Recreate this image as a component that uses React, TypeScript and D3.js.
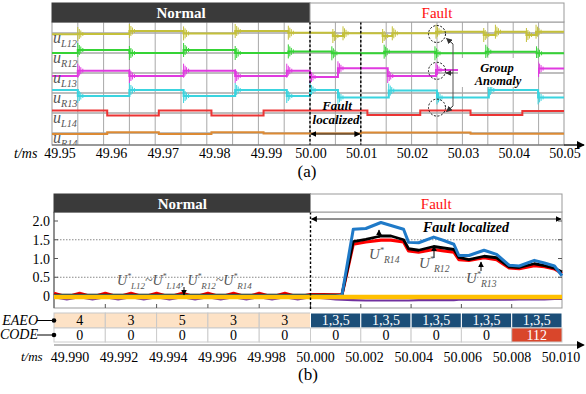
import React from 'react';
import * as d3 from 'd3';

// ---------------- (a) data ----------------
const topTicks = [49.95, 49.96, 49.97, 49.98, 49.99, 50.0, 50.01, 50.02, 50.03, 50.04, 50.05];
const topTickLabels = ['49.95', '49.96', '49.97', '49.98', '49.99', '50.00', '50.01', '50.02', '50.03', '50.04', '50.05'];
const topGridTimes = [49.955, 49.96, 49.965, 49.97, 49.975, 49.98, 49.985, 49.99, 49.995, 50.0, 50.005, 50.01, 50.015, 50.02, 50.025, 50.03, 50.035, 50.04, 50.045];
const channelSubs = ['L12', 'R12', 'L13', 'R13', 'L14', 'R14'];
const channelColors = ['#c4c03a', '#35d335', '#e03ae0', '#3ad4df', '#ec3434', '#dc8a34'];
const spikeChannels = [true, true, true, true, false, false];

// step signals: [time (ms), level (divisions relative to channel baseline)]
const uL12: [number, number][] = [
  [49.95, -0.06], [49.955, -0.05], [49.965, 0.1], [49.9755, -0.02], [49.9855, 0.1], [49.9958, 0.015],
  [50.0045, -0.15], [50.0065, -0.015], [50.0143, -0.15], [50.0162, -0.015], [50.0248, 0.065],
  [50.0342, -0.1], [50.0365, 0.065], [50.0426, -0.1], [50.0445, 0.065],
];
const uR12: [number, number][] = [
  [49.95, 0], [49.955, 0.15], [49.965, 0], [49.9755, 0.15], [49.9855, 0], [49.9958, 0.08],
  [50.0043, -0.015], [50.0146, 0.065], [50.0246, -0.015], [50.0346, 0.065], [50.0446, -0.015],
];
const uL13: [number, number][] = [
  [49.95, -0.15], [49.955, 0.115], [49.965, -0.15], [49.9755, 0.115], [49.9855, -0.15], [49.9955, 0.115],
  [50.0, -0.2], [50.0055, 0.235], [50.0153, -0.15], [50.0248, 0.15], [50.0348, -0.15], [50.0449, 0.22],
];
const uR13: [number, number][] = [
  [49.95, 0.15], [49.955, -0.15], [49.965, 0.15], [49.9755, -0.15], [49.9855, 0.15], [49.9955, -0.15],
  [50.0, 0.15], [50.0055, -0.22], [50.0155, 0.12], [50.025, -0.22], [50.0352, 0.15], [50.0449, -0.22],
];
const uL14: [number, number][] = [
  [49.95, 0.125], [49.9607, -0.125], [49.9707, 0.125], [49.9809, -0.125], [49.991, 0.125],
  [50.0113, -0.1], [50.0217, 0.125], [50.0316, -0.1], [50.0418, 0.1],
];
const uR14: [number, number][] = [
  [49.95, -0.05], [49.9607, 0.035], [49.9707, -0.05], [49.9809, 0.035], [49.991, -0.03],
  [50.01, 0.02], [50.0316, -0.04],
];
const channels = [uL12, uR12, uL13, uR13, uL14, uR14];
const anomalyTime = 50.025;
const anomalyChannels = [0, 2, 4];

// ---------------- (b) data ----------------
const bTicks = [49.99, 49.992, 49.994, 49.996, 49.998, 50.0, 50.002, 50.004, 50.006, 50.008, 50.01];
const bTickLabels = ['49.990', '49.992', '49.994', '49.996', '49.998', '50.000', '50.002', '50.004', '50.006', '50.008', '50.010'];
const yTicks = [0, 0.5, 1.0, 1.5, 2.0];
const yTickLabels = ['0', '0.5', '1.0', '1.5', '2.0'];
const yDotted = [0.5, 1.5];

const tNormal = [49.99, 49.9905, 49.991, 49.9915, 49.992, 49.9925, 49.993, 49.9935, 49.994, 49.9945,
  49.995, 49.9955, 49.996, 49.9965, 49.997, 49.9975, 49.998, 49.9985, 49.999, 49.9995];
const tFault = [50.0, 50.0005, 50.001, 50.00125, 50.0017, 50.0022, 50.0028, 50.0032, 50.0037, 50.0039,
  50.0043, 50.0049, 50.0053, 50.0057, 50.0059, 50.0063, 50.0069, 50.0074, 50.0079, 50.0083,
  50.0089, 50.0093, 50.0097, 50.01];

const uR14Normal = [0, 0, 0, 0, 0, 0, 0, 0, 0, 0, 0, 0, 0, 0, 0, 0, 0, 0, 0, 0];
const uR14Fault = [0, 0, 0, 0.02, 1.78, 1.8, 1.96, 1.88, 1.78, 1.43, 1.42, 1.57, 1.48, 1.38, 1.08, 1.08, 1.22, 1.11, 0.82, 0.8, 0.95, 0.88, 0.8, 0.54];
const uR12Normal = [0.02, 0.02, 0.02, 0.02, 0.02, 0.02, 0.02, 0.02, 0.02, 0.02, 0.02, 0.02, 0.02, 0.02, 0.02, 0.02, 0.02, 0.02, 0.02, 0.02];
const uR12Fault = [0.02, 0.02, 0.02, 0.02, 1.45, 1.51, 1.6, 1.6, 1.5, 1.26, 1.22, 1.32, 1.28, 1.24, 1.03, 0.97, 1.06, 1.02, 0.78, 0.76, 0.86, 0.81, 0.74, 0.64];
const uR13Normal = [0.07, -0.03, 0.07, -0.03, 0.07, -0.03, 0.07, -0.03, 0.07, -0.03, 0.07, -0.03, 0.07, -0.03, 0.07, -0.03, 0.07, -0.03, 0.07, -0.03];
const uR13Fault = [0.04, 0.04, 0.03, 0.03, 1.38, 1.44, 1.49, 1.49, 1.44, 1.2, 1.17, 1.24, 1.2, 1.17, 0.97, 0.95, 1.02, 0.97, 0.75, 0.73, 0.81, 0.78, 0.72, 0.6];
const uL13Normal = [-0.03, -0.09, -0.03, -0.09, -0.03, -0.09, -0.03, -0.09, -0.03, -0.09, -0.03, -0.09, -0.03, -0.09, -0.03, -0.09, -0.03, -0.09, -0.03, -0.09];
const uL13Fault = [-0.03, -0.06, -0.09, -0.1, -0.11, -0.12, -0.12, -0.12, -0.12, -0.12, -0.11, -0.11, -0.11, -0.11, -0.1, -0.1, -0.1, -0.1, -0.1, -0.09, -0.09, -0.09, -0.08, -0.08];
const uL12Normal = [-0.025, -0.025, -0.025, -0.025, -0.025, -0.025, -0.025, -0.025, -0.025, -0.025, -0.025, -0.025, -0.025, -0.025, -0.025, -0.025, -0.025, -0.025, -0.025, -0.025];
const uL12Fault = [-0.025, -0.025, -0.025, -0.025, -0.025, -0.025, -0.025, -0.025, -0.025, -0.025, -0.025, -0.025, -0.025, -0.025, -0.025, -0.025, -0.025, -0.025, -0.025, -0.025, -0.025, -0.025, -0.025, -0.025];

const cellStarts = [49.99, 49.992, 49.994, 49.996, 49.998, 50.0, 50.002, 50.004, 50.006, 50.008];
const eaeo = ['4', '3', '5', '3', '3', '1,3,5', '1,3,5', '1,3,5', '1,3,5', '1,3,5'];
const code = ['0', '0', '0', '0', '0', '0', '0', '0', '0', '112'];

const serif = "'Liberation Serif', 'Times New Roman', serif";

type Part = { t: string; k?: 'sup' | 'sub' };

function RichText({ x, y, parts, size, fill, anchor }: { x: number; y: number; parts: Part[]; size: number; fill: string; anchor?: string }) {
  let cur = 0;
  const spans = parts.map((p, i) => {
    const target = p.k === 'sup' ? -size * 0.42 : p.k === 'sub' ? size * 0.28 : 0;
    const dy = target - cur;
    cur = target;
    const fs = p.k === 'sup' ? size * 0.55 : p.k === 'sub' ? size * 0.64 : size;
    return <tspan key={i} dy={dy} fontSize={fs}>{p.t}</tspan>;
  });
  return (
    <text x={x} y={y} style={{ fontFamily: serif }} fontStyle="italic" fill={fill} fontSize={size} textAnchor={anchor || 'start'}>
      {spans}
    </text>
  );
}

export default function App() {
  // (a) scales
  const xT = d3.scaleLinear().domain([49.95, 50.0, 50.05]).range([52, 310, 564]);
  const yT = d3.scaleLinear().domain([0, 5]).range([33, 133]);
  const topL = 52, topR = 564, topTop = 22, topBot = 145;

  // (b) scales
  const xB = d3.scaleLinear().domain([49.99, 50.0, 50.01]).range([54, 310.5, 562]);
  const yB = d3.scaleLinear().domain([0, 2]).range([296, 221]);
  const xBL = d3.scaleLinear().domain([49.99, 50.01]).range([70, 561]);
  const bL = 54, bR = 562, bTop = 212, bBot = 308;
  const rowE0 = 313, rowE1 = 328, rowC1 = 342;

  const stepLine = d3.line<[number, number]>().x(d => d[0]).y(d => d[1]).curve(d3.curveStepAfter);
  const lin = d3.line<[number, number]>().x(d => xB(d[0])).y(d => yB(d[1]));

  const series = (n: number[], f: number[]) => {
    const ts = tNormal.concat(tFault);
    const vs = n.concat(f);
    return ts.map((t, i) => [t, vs[i]] as [number, number]);
  };

  const topSignals = channels.map((steps, i) => {
    const pts: [number, number][] = steps.map(([t, v]) => [xT(t), yT(i - v)]);
    pts.push([xT(50.05), yT(i - steps[steps.length - 1][1])]);
    let spikes = '';
    if (spikeChannels[i]) {
      steps.slice(1).forEach(([t, v]) => {
        const x = xT(t), y = yT(i - v);
        spikes += `M${x},${y - 7}L${x},${y + 7}M${x + 1.5},${y - 5}L${x + 1.5},${y + 5}M${x + 3},${y - 3.5}L${x + 3},${y + 3.5}M${x + 5},${y - 2}L${x + 5},${y + 2}`;
      });
    }
    return { d: stepLine(pts) || '', spikes };
  });

  return (
    <svg width={586} height={394} style={{ position: 'absolute', left: 0, top: 0, background: '#fff', fontFamily: serif }}>
      <defs>
        <clipPath id="topClip">
          <rect x={topL} y={topTop} width={topR - topL} height={topBot - topTop} />
        </clipPath>
        <marker id="ahB" viewBox="0 0 10 10" refX="9" refY="5" markerWidth="8" markerHeight="8" markerUnits="userSpaceOnUse" orient="auto-start-reverse">
          <path d="M0,0 L10,5 L0,10 z" fill="#000" />
        </marker>
        <marker id="ahS" viewBox="0 0 10 10" refX="9" refY="5" markerWidth="6" markerHeight="6" markerUnits="userSpaceOnUse" orient="auto-start-reverse">
          <path d="M0,0 L10,5 L0,10 z" fill="#000" />
        </marker>
        <marker id="ahG" viewBox="0 0 10 10" refX="9" refY="5" markerWidth="6" markerHeight="6" markerUnits="userSpaceOnUse" orient="auto-start-reverse">
          <path d="M0,0 L10,5 L0,10 z" fill="#333" />
        </marker>
      </defs>

      {/* ================= (a) ================= */}
      <rect x={topL} y={topTop} width={topR - topL} height={topBot - topTop} fill="#fff" stroke="#999" />
      {topGridTimes.map((t, i) => (
        <line key={i} x1={xT(t)} x2={xT(t)} y1={topTop} y2={topBot} stroke="#a8a8a8" strokeWidth={1} />
      ))}
      {channels.map((_, i) => (
        <line key={i} x1={topL} x2={topR} y1={yT(i)} y2={yT(i)} stroke="#a8a8a8" strokeWidth={1.5} />
      ))}
      {topSignals.map((s, i) => (
        <g key={i}>
          <path d={s.d} fill="none" stroke={channelColors[i]} strokeWidth={2} />
          {s.spikes && <path d={s.spikes} fill="none" stroke={channelColors[i]} strokeWidth={1} />}
        </g>
      ))}
      <g clipPath="url(#topClip)">
        {channelSubs.map((s, i) => (
          <RichText key={i} x={53} y={yT(i) + 10} parts={[{ t: 'u' }, { t: s, k: 'sub' }]} size={16} fill="#555" />
        ))}
      </g>

      {/* fault localized (a) */}
      <line x1={xT(50.0)} x2={xT(50.0)} y1={topTop} y2={topBot} stroke="#000" strokeWidth={1.4} strokeDasharray="2.5,2" />
      <line x1={xT(50.01)} x2={xT(50.01)} y1={topTop} y2={topBot} stroke="#000" strokeWidth={1.4} strokeDasharray="2.5,2" />
      <line x1={xT(50.0) + 1} x2={xT(50.01) - 1} y1={134} y2={134} stroke="#222" strokeWidth={1.2} markerStart="url(#ahS)" markerEnd="url(#ahS)" />
      <text x={337} y={110} fontSize={13} fontWeight="bold" fontStyle="italic" textAnchor="middle">Fault</text>
      <text x={336} y={124} fontSize={13} fontWeight="bold" fontStyle="italic" textAnchor="middle">localized</text>

      {/* group anomaly */}
      {anomalyChannels.map((c) => (
        <circle key={c} cx={xT(anomalyTime)} cy={yT(c * 0.92 + 0.05)} r={8.5} fill="none" stroke="#111" strokeWidth={1} strokeDasharray="2,1.6" />
      ))}
      <path d="M453,44 L453,106" fill="none" stroke="#555" strokeWidth={1} />
      <line x1={453} y1={44} x2={446.5} y2={38.5} stroke="#333" strokeWidth={1} markerEnd="url(#ahG)" />
      <line x1={453} y1={106} x2={446.5} y2={111.5} stroke="#333" strokeWidth={1} markerEnd="url(#ahG)" />
      <line x1={453} y1={73} x2={446} y2={73} stroke="#333" strokeWidth={1} markerEnd="url(#ahG)" />
      <rect x={458} y={58} width={80} height={29} fill="#fff" />
      <text x={497} y={71.5} fontSize={12.5} fontWeight="bold" fontStyle="italic" textAnchor="middle">Group</text>
      <text x={498} y={85} fontSize={12.5} fontWeight="bold" fontStyle="italic" textAnchor="middle">Anomaly</text>

      {/* headers (a) */}
      <rect x={topL} y={3} width={xT(50.0) - topL} height={19} fill="#3a3a3a" stroke="#3a3a3a" />
      <rect x={xT(50.0)} y={3} width={topR - xT(50.0)} height={19} fill="#fff" stroke="#999" />
      <text x={(topL + xT(50.0)) / 2} y={18} fontSize={15} fontWeight="bold" fill="#fff" textAnchor="middle">Normal</text>
      <text x={(xT(50.0) + topR) / 2} y={18} fontSize={15} fill="#ff1010" textAnchor="middle">Fault</text>

      {/* axis (a) */}
      <line x1={topL} x2={584} y1={topBot} y2={topBot} stroke="#666" strokeWidth={1} />
      <line x1={topR} x2={584} y1={topBot} y2={topBot} stroke="#000" strokeWidth={1} markerEnd="url(#ahB)" />
      {topTicks.map((t, i) => (
        <text key={i} x={xT(t) + (t < 50 ? 8 : 1)} y={158} fontSize={14} textAnchor="middle">{topTickLabels[i]}</text>
      ))}
      <text x={14} y={158} fontSize={14} fontStyle="italic">t/ms</text>
      <text x={307} y={177} fontSize={17} textAnchor="middle">(a)</text>

      {/* ================= (b) ================= */}
      <rect x={bL} y={bTop} width={bR - bL} height={bBot - bTop} fill="#fff" stroke="#999" />
      <line x1={bL} x2={bL} y1={bTop} y2={bBot} stroke="#555" />
      {yDotted.map((v, i) => (
        <line key={i} x1={bL} x2={bR} y1={yB(v)} y2={yB(v)} stroke="#888" strokeWidth={1} strokeDasharray="1.5,1.5" />
      ))}
      {yTicks.map((v, i) => (
        <g key={i}>
          <line x1={bL} x2={bL + 4} y1={yB(v)} y2={yB(v)} stroke="#555" />
          <line x1={bR - 4} x2={bR} y1={yB(v)} y2={yB(v)} stroke="#555" />
          <text x={50} y={yB(v) + 5} fontSize={14} textAnchor="end">{yTickLabels[i]}</text>
        </g>
      ))}
      {bTicks.slice(1, -1).map((t, i) => (
        <line key={i} x1={xB(t)} x2={xB(t)} y1={bBot} y2={bBot - 4} stroke="#555" />
      ))}

      {/* lines */}
      <path d={lin(series(uL13Normal, uL13Fault)) || ''} fill="none" stroke="#7030a0" strokeWidth={2.2} />
      <path d={lin(series(uR13Normal, uR13Fault)) || ''} fill="none" stroke="#ff0000" strokeWidth={3.2} strokeLinejoin="round" />
      <path d={lin(series(uR12Normal, uR12Fault)) || ''} fill="none" stroke="#000" strokeWidth={2.8} strokeLinejoin="round" />
      <path d={lin(series(uR14Normal, uR14Fault)) || ''} fill="none" stroke="#1f7ac8" strokeWidth={3} strokeLinejoin="round" />
      <path d={lin(series(uL12Normal, uL12Fault)) || ''} fill="none" stroke="#ffc000" strokeWidth={4.5} />

      {/* annotations (b) */}
      <line x1={xB(50.0)} x2={xB(50.0)} y1={bTop} y2={bBot + 3} stroke="#000" strokeWidth={1.4} strokeDasharray="2.5,2" />
      <line x1={xB(50.0) + 1} x2={bR - 1} y1={219} y2={219} stroke="#222" strokeWidth={1} markerStart="url(#ahS)" markerEnd="url(#ahS)" />
      <text x={466} y={232} fontSize={14} fontWeight="bold" fontStyle="italic" textAnchor="middle">Fault localized</text>

      <RichText x={117} y={285} size={14} fill="#555" parts={[
        { t: 'U' }, { t: '*', k: 'sup' }, { t: 'L12', k: 'sub' }, { t: '~U' }, { t: '*', k: 'sup' }, { t: 'L14', k: 'sub' },
        { t: ', U' }, { t: '*', k: 'sup' }, { t: 'R12', k: 'sub' }, { t: '~U' }, { t: '*', k: 'sup' }, { t: 'R14', k: 'sub' },
      ]} />
      <line x1={184} x2={184} y1={287} y2={295} stroke="#000" strokeWidth={1} markerEnd="url(#ahS)" />

      <RichText x={369} y={259} size={15} fill="#555" parts={[{ t: 'U' }, { t: '*', k: 'sup' }, { t: 'R14', k: 'sub' }]} />
      <line x1={379} x2={379} y1={238} y2={230} stroke="#000" strokeWidth={1} markerEnd="url(#ahS)" />
      <RichText x={419} y={268} size={15} fill="#555" parts={[{ t: 'U' }, { t: '*', k: 'sup' }, { t: 'R12', k: 'sub' }]} />
      <line x1={434} x2={434} y1={258} y2={246} stroke="#000" strokeWidth={1} markerEnd="url(#ahS)" />
      <RichText x={466} y={283} size={15} fill="#555" parts={[{ t: 'U' }, { t: '*', k: 'sup' }, { t: 'R13', k: 'sub' }]} />
      <line x1={481} x2={481} y1={271} y2={262} stroke="#000" strokeWidth={1} markerEnd="url(#ahS)" />

      {/* headers (b) */}
      <rect x={bL} y={194} width={xB(50.0) - bL} height={18} fill="#3a3a3a" stroke="#3a3a3a" />
      <rect x={xB(50.0)} y={194} width={bR - xB(50.0)} height={18} fill="#fff" stroke="#999" />
      <text x={(bL + xB(50.0)) / 2} y={208.5} fontSize={15} fontWeight="bold" fill="#fff" textAnchor="middle">Normal</text>
      <text x={(xB(50.0) + bR) / 2} y={208.5} fontSize={15} fill="#ff1010" textAnchor="middle">Fault</text>

      {/* table */}
      {cellStarts.map((t, i) => {
        const x0 = xB(t), x1 = xB(t + 0.002);
        const fault = t >= 50.0;
        const last = code[i] !== '0';
        return (
          <g key={i}>
            <rect x={x0} y={rowE0} width={x1 - x0} height={rowE1 - rowE0} fill={fault ? '#1b4e78' : '#fde2c6'} stroke={fault ? '#fff' : '#c8c8c8'} strokeWidth={1} />
            <text x={(x0 + x1) / 2} y={rowE1 - 3} fontSize={14} textAnchor="middle" fill={fault ? '#fff' : '#000'}>{eaeo[i]}</text>
            <rect x={x0} y={rowE1} width={x1 - x0} height={rowC1 - rowE1} fill={last ? '#d9462b' : '#fff'} stroke="#ccc" strokeWidth={1} />
            <text x={(x0 + x1) / 2} y={rowC1 - 2.5} fontSize={14} textAnchor="middle" fill={last ? '#fff' : '#000'}>{code[i]}</text>
          </g>
        );
      })}
      <text x={38} y={325} fontSize={14} fontStyle="italic" textAnchor="end">EAEO</text>
      <line x1={37} x2={bL} y1={320.5} y2={320.5} stroke="#000" />
      <circle cx={bL} cy={320.5} r={2.3} fill="#000" />
      <text x={38} y={339} fontSize={14} fontStyle="italic" textAnchor="end">CODE</text>
      <line x1={37} x2={bL} y1={335} y2={335} stroke="#000" />
      <circle cx={bL} cy={335} r={2.3} fill="#000" />

      {/* axis (b) */}
      <line x1={bL} x2={584} y1={345} y2={345} stroke="#777" strokeWidth={1} markerEnd="url(#ahB)" />
      {bTicks.map((t, i) => (
        <text key={i} x={xBL(t)} y={362} fontSize={14} textAnchor="middle">{bTickLabels[i]}</text>
      ))}
      <text x={21} y={361} fontSize={13} fontStyle="italic">t/ms</text>
      <text x={308} y={380} fontSize={17} textAnchor="middle">(b)</text>
    </svg>
  );
}
